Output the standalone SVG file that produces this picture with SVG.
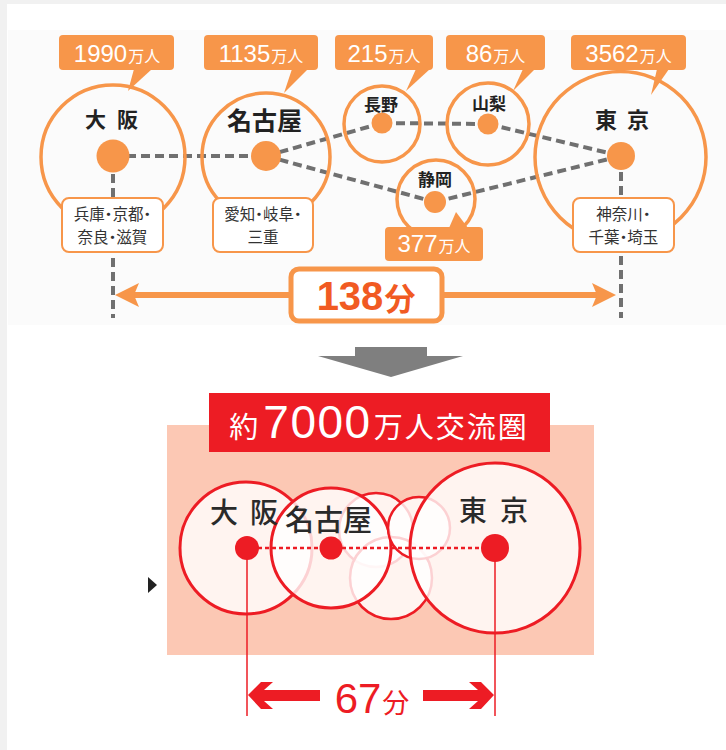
<svg xmlns="http://www.w3.org/2000/svg" width="726" height="750" viewBox="0 0 726 750">
<style>
.jp{font-family:"Noto Sans CJK JP","Noto Sans CJK SC",sans-serif}
.num{font-family:"Liberation Sans",Arial,sans-serif}
.co{fill:#f7964a}
.cot{fill:#fff;font-family:"Liberation Sans",Arial,sans-serif;font-size:24px;text-anchor:middle}
.man{font-family:"Noto Sans CJK JP","Noto Sans CJK SC",sans-serif;font-size:16px}
.ring{fill:none;stroke:#f7964a;stroke-width:3.5}
.dot{fill:#f7964a}
.lbl{fill:#222;font-weight:bold}
.sub{fill:#fff;stroke:#f7964a;stroke-width:2}
.subt{fill:#333;font-size:15.5px;text-anchor:middle;font-feature-settings:"palt"}
.dash{stroke:#707070;stroke-width:4;stroke-dasharray:9 5;fill:none}
.rc{stroke:#ed1c24;stroke-width:3;fill:#fff;fill-opacity:0.8}
.rs{stroke:#ed1c24;stroke-width:2.5;fill:#fff;fill-opacity:0.8}
.rd{fill:#ed1c24}
.bl{fill:#2a2a2a;font-weight:500}
</style>
<rect x="0" y="0" width="726" height="750" fill="#fff"/>
<rect x="0" y="0" width="726" height="4" fill="#f1f1f1"/>
<rect x="0" y="0" width="7" height="750" fill="#f1f1f1"/>
<rect x="8" y="30" width="718" height="295" fill="#fbfbfb"/>

<g id="connectors">
<line class="dash" x1="113" y1="156" x2="266" y2="156"/>
<line class="dash" x1="266" y1="156" x2="382" y2="123"/>
<line class="dash" x1="382" y1="123" x2="488" y2="124"/>
<line class="dash" x1="488" y1="124" x2="621" y2="156"/>
<line class="dash" x1="266" y1="156" x2="435" y2="202"/>
<line class="dash" x1="435" y1="202" x2="621" y2="156"/>
<line class="dash" x1="113" y1="174" x2="113" y2="318"/>
<line class="dash" x1="621" y1="172" x2="621" y2="318"/>
</g>

<g id="osaka">
<circle class="ring" cx="113" cy="157" r="72"/>
<rect class="co" x="59" y="35" width="115" height="35" rx="4"/>
<polygon class="co" points="134,69 152,69 128,91"/>
<text class="cot" x="117" y="62">1990<tspan class="man" dx="1">万人</tspan></text>
<circle class="dot" cx="113" cy="156" r="16.5"/>
<text class="jp lbl" x="85" y="127" font-size="21" letter-spacing="11">大阪</text>
<rect class="sub" x="62" y="198" width="101" height="54" rx="7"/>
<text class="jp subt" x="112.5" y="220">兵庫・京都・</text>
<text class="jp subt" x="112.5" y="243">奈良・滋賀</text>
</g>

<g id="nagoya">
<circle class="ring" cx="266" cy="157" r="64"/>
<rect class="co" x="204" y="35" width="114" height="35" rx="4"/>
<polygon class="co" points="292,69 308,69 284,93"/>
<text class="cot" x="261" y="62">1135<tspan class="man" dx="1">万人</tspan></text>
<circle class="dot" cx="266" cy="156" r="15"/>
<text class="jp lbl" x="264.5" y="130" font-size="25" text-anchor="middle">名古屋</text>
<rect class="sub" x="213" y="198" width="100" height="54" rx="7"/>
<text class="jp subt" x="263" y="220">愛知・岐阜・</text>
<text class="jp subt" x="263" y="243">三重</text>
</g>

<g id="nagano">
<circle class="ring" cx="382" cy="124" r="38"/>
<rect class="co" x="335" y="35" width="98" height="35" rx="4"/>
<polygon class="co" points="416,69 430,69 406,91"/>
<text class="cot" x="384" y="62">215<tspan class="man" dx="1">万人</tspan></text>
<circle class="dot" cx="382" cy="123" r="10.5"/>
<text class="jp lbl" x="381" y="111" font-size="17" text-anchor="middle">長野</text>
</g>

<g id="yamanashi">
<circle class="ring" cx="488" cy="124" r="41"/>
<rect class="co" x="446" y="35" width="99" height="35" rx="4"/>
<polygon class="co" points="523,69 535,69 513,91"/>
<text class="cot" x="495.5" y="62">86<tspan class="man" dx="1">万人</tspan></text>
<circle class="dot" cx="488" cy="124" r="10.5"/>
<text class="jp lbl" x="489" y="110" font-size="17" text-anchor="middle">山梨</text>
</g>

<g id="shizuoka">
<circle class="ring" cx="436" cy="199" r="39"/>
<circle class="dot" cx="435" cy="202" r="11"/>
<text class="jp lbl" x="435" y="186" font-size="17" text-anchor="middle">静岡</text>
<rect class="co" x="385" y="227" width="98" height="34" rx="4"/>
<polygon class="co" points="449,228 468,228 456,212"/>
<text class="cot" x="434" y="252">377<tspan class="man" dx="1">万人</tspan></text>
</g>

<g id="tokyo">
<circle class="ring" cx="620.5" cy="157" r="85.5"/>
<rect class="co" x="571" y="35" width="115" height="35" rx="4"/>
<polygon class="co" points="657,69 669,69 651,95"/>
<text class="cot" x="628.5" y="62">3562<tspan class="man" dx="1">万人</tspan></text>
<circle class="dot" cx="621" cy="156" r="14"/>
<text class="jp lbl" x="595" y="128" font-size="22" letter-spacing="10">東京</text>
<rect class="sub" x="573" y="198" width="101" height="54" rx="7"/>
<text class="jp subt" x="623.5" y="220">神奈川・</text>
<text class="jp subt" x="623.5" y="243">千葉・埼玉</text>
</g>

<g id="time138">
<line x1="130" y1="295" x2="600" y2="295" stroke="#f7964a" stroke-width="6"/>
<polygon class="co" points="115,295 139,283 134,295 139,307"/>
<polygon class="co" points="616,295 592,283 597,295 592,307"/>
<rect x="291" y="269" width="151" height="52" rx="8" fill="#fff" stroke="#f7964a" stroke-width="5"/>
<text x="366" y="310" text-anchor="middle" fill="#f15a22" font-weight="bold"><tspan class="num" font-size="40">138</tspan><tspan class="jp" font-size="31" dx="1">分</tspan></text>
</g>

<g id="down-arrow">
<polygon points="355,347 427,347 427,356 463,356 391,377 318,356 355,356" fill="#7f7f7f"/>
</g>

<g id="panel">
<rect x="167" y="425" width="427" height="230" fill="#fcc8b4"/>
<rect x="209" y="393" width="341" height="59" fill="#ed1c24"/>
<text x="379" y="438" text-anchor="middle" fill="#fff"><tspan class="jp" font-size="29">約</tspan><tspan class="num" font-size="46" dx="5" letter-spacing="1.5">7000</tspan><tspan class="jp" font-size="29" dx="2" letter-spacing="2">万人交流圏</tspan></text>
</g>

<g id="b-osaka">
<circle class="rc" cx="246" cy="548" r="66" fill-opacity="1"/>
</g>
<g id="b-nagano">
<circle class="rs" cx="376" cy="530" r="37"/>
</g>
<g id="b-shizuoka">
<circle class="rs" cx="391" cy="578" r="41"/>
</g>
<g id="b-nagoya">
<circle class="rc" cx="331" cy="548" r="60"/>
</g>
<g id="b-yamanashi">
<circle class="rs" cx="419" cy="528" r="31"/>
</g>
<g id="b-tokyo">
<circle class="rc" cx="495" cy="548" r="85"/>
</g>

<g id="b-connectors">
<line x1="258" y1="548" x2="482" y2="548" stroke="#ed1c24" stroke-width="2.5" stroke-dasharray="4 3"/>
<line x1="247" y1="548" x2="247" y2="716" stroke="#ed1c24" stroke-width="1.5"/>
<line x1="495" y1="548" x2="495" y2="716" stroke="#ed1c24" stroke-width="1.5"/>
</g>

<g id="b-labels">
<circle class="rd" cx="247" cy="548" r="12"/>
<circle class="rd" cx="331" cy="548" r="11.5"/>
<circle class="rd" cx="495" cy="548" r="14"/>
<text class="jp bl" x="210" y="523" font-size="28" letter-spacing="12">大阪</text>
<text class="jp bl" x="285" y="531" font-size="29">名古屋</text>
<text class="jp bl" x="459" y="521" font-size="28" letter-spacing="13">東京</text>
</g>

<g id="time67">
<path class="rd" d="M248,695 L261,682 L273,682 L264,690 L320,690 L320,701 L264,701 L273,709 L261,709 Z"/>
<path class="rd" d="M494,695 L481,682 L469,682 L478,690 L423,690 L423,701 L478,701 L469,709 L481,709 Z"/>
<text x="372" y="713" text-anchor="middle" fill="#ed1c24"><tspan class="num" font-size="42">67</tspan><tspan class="jp" font-size="27" dx="1">分</tspan></text>
</g>

<polygon points="148,577 157,585 148,593" fill="#222"/>
</svg>
